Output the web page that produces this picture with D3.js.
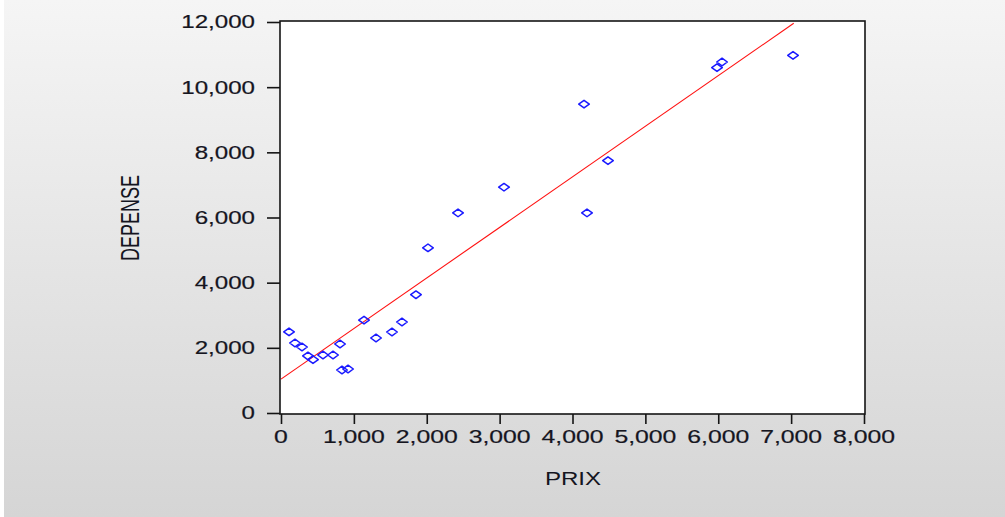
<!DOCTYPE html>
<html>
<head>
<meta charset="utf-8">
<script src="https://cdn.jsdelivr.net/npm/d3@7"></script>
<style>
html,body{margin:0;padding:0;}
body{width:1005px;height:517px;overflow:hidden;}
svg{display:block;}
text{font-family:"Liberation Sans",Arial,sans-serif;fill:#15151f;}
</style>
</head>
<body>
<svg id="chart" width="1005" height="517"></svg>
<script>
// Data
const prix    = [110, 192, 288, 370, 439, 576, 714, 810, 837, 920, 1139, 1304, 1523, 1660, 1852, 2017, 2429, 3060, 4158, 4199, 4487, 5983, 6052, 7026];
const depense = [2490, 2148, 2026, 1750, 1640, 1780, 1780, 2118, 1320, 1350, 2850, 2302, 2486, 2793, 3630, 5070, 6140, 6930, 9480, 6140, 7745, 10600, 10772, 10975];
const xTicks = [0, 1000, 2000, 3000, 4000, 5000, 6000, 7000, 8000];
const yTicks = [0, 2000, 4000, 6000, 8000, 10000, 12000];
const fitIntercept = 1040;
const fitSlope = 1.552;
const xLabel = "PRIX";
const yLabel = "DEPENSE";

const svg = d3.select("#chart");
const W = 1005, H = 517;
const stretch = 1.34;

// background gradient
const defs = svg.append("defs");
const grad = defs.append("linearGradient").attr("id","bg").attr("x1",0).attr("y1",0).attr("x2",0).attr("y2",1);
grad.append("stop").attr("offset","0%").attr("stop-color","#f5f5f5");
grad.append("stop").attr("offset","100%").attr("stop-color","#d5d5d5");
svg.append("rect").attr("width",W).attr("height",H).attr("fill","url(#bg)");
svg.append("rect").attr("width",4).attr("height",H).attr("fill","#ffffff");

const x = d3.scaleLinear().domain([0, 8000]).range([281, 864]);
const y = d3.scaleLinear().domain([0, 12000]).range([413, 22]);

// plot area
svg.append("rect")
  .attr("x", 280).attr("y", 21)
  .attr("width", 585).attr("height", 393)
  .attr("fill", "#ffffff")
  .attr("stroke", "#141414").attr("stroke-width", 1.6);

const fmt = d3.format(",");

// y axis
const yAxis = d3.axisLeft(y).tickValues(yTicks).tickSize(13).tickFormat("");
const gy = svg.append("g").attr("transform","translate(280,0)").call(yAxis);
gy.select(".domain").remove();
gy.selectAll(".tick line").attr("stroke","#141414").attr("stroke-width",1.6);

// x axis
const xAxis = d3.axisBottom(x).tickValues(xTicks).tickSize(10).tickFormat("");
const gx = svg.append("g").attr("transform","translate(0,414)").call(xAxis);
gx.select(".domain").remove();
gx.selectAll(".tick line").attr("stroke","#141414").attr("stroke-width",1.6);

// tick labels (horizontally stretched like the reference)
svg.append("g").selectAll("text").data(yTicks).join("text")
  .attr("transform", d => `translate(255,${y(d)}) scale(${stretch},1)`)
  .attr("text-anchor","end")
  .attr("dy","0.36em")
  .attr("font-size", 18)
  .attr("stroke","#15151f").attr("stroke-width",0.2)
  .text(d => fmt(d));

svg.append("g").selectAll("text").data(xTicks).join("text")
  .attr("transform", d => `translate(${x(d)},443) scale(${stretch},1)`)
  .attr("text-anchor","middle")
  .attr("font-size", 18.5)
  .attr("stroke","#15151f").attr("stroke-width",0.2)
  .text(d => fmt(d));

// axis titles
svg.append("text")
  .attr("transform", `translate(573,485) scale(${stretch},1)`)
  .attr("text-anchor","middle")
  .attr("font-size", 18)
  .text(xLabel);

svg.append("text")
  .attr("transform", `translate(130,218) scale(1.45,1) rotate(-90)`)
  .attr("text-anchor","middle")
  .attr("dy","0.36em")
  .attr("font-size", 18)
  .text(yLabel);

// regression line
const xMax = d3.max(prix);
svg.append("line")
  .attr("x1", x(0)).attr("y1", y(fitIntercept))
  .attr("x2", x(xMax + 10)).attr("y2", y(fitIntercept + fitSlope * (xMax + 10)))
  .attr("stroke", "#ff1010").attr("stroke-width", 1.1);

// markers (wide diamonds)
const pts = prix.map((p, i) => ({p, d: depense[i]}));
svg.append("g").selectAll("path").data(pts).join("path")
  .attr("d", d => {
    const cx = x(d.p), cy = y(d.d), hw = 5.3, hh = 3.8;
    return `M${cx - hw},${cy}L${cx},${cy - hh}L${cx + hw},${cy}L${cx},${cy + hh}Z`;
  })
  .attr("fill","none")
  .attr("stroke","#1a1aff")
  .attr("stroke-width",1.5)
  .attr("stroke-linejoin","round");
</script>
</body>
</html>
